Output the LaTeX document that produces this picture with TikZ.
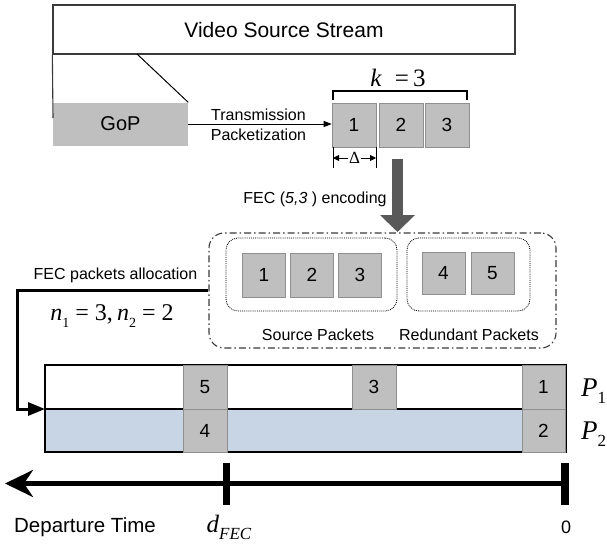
\documentclass[tikz,border=0pt]{standalone}
\usepackage{fontspec}
\setmainfont{Liberation Sans}
\newfontfamily\tms{Liberation Serif}
\usetikzlibrary{arrows.meta}
\definecolor{pgray}{HTML}{BFBFBF}
\definecolor{pedge}{HTML}{8F8F8F}
\definecolor{pblue}{HTML}{C8D5E5}
\definecolor{darr}{HTML}{595959}
\definecolor{lgray}{HTML}{3A3A3A}
\newcommand{\fsz}[1]{\fontsize{#1}{#1}\selectfont}
\newcommand{\mysub}[2]{\raisebox{-0.28em}{\fontsize{#1}{#1}\selectfont #2}}
\begin{document}
\begin{tikzpicture}[x=1pt,y=-1pt,
  pk/.style={draw=pedge, fill=pgray, line width=0.6pt, inner sep=0pt,
    minimum width=44pt, minimum height=44pt, font=\fsz{19}},
  lbl/.style={inner sep=0pt, font=\fontsize{16}{20}\selectfont, align=center},
  dotbox/.style={draw=black, line width=0.8pt, dash pattern=on 0.9pt off 1pt,
    rounded corners=12pt, inner sep=0pt},
  tick/.style={fill=black, inner sep=0pt, minimum height=42pt}]
\useasboundingbox (0,0) rectangle (607,543);

% video source stream and GoP
\node[draw=lgray, line width=1.3pt, minimum width=462pt, minimum height=49pt,
  inner sep=0pt, font=\fsz{21}] (vss) at (284,29.5) {Video Source Stream};
\node[fill=pgray, minimum width=135pt, minimum height=43pt, inner sep=0pt,
  font=\fsz{20}] (gop) at (120.5,124) {GoP};
\coordinate (gl) at (53,118);
\coordinate (dg) at (137,54);
\draw[lgray, line width=1.1pt] (vss.south west) -- (gl);
\draw[black, line width=1pt] (dg) -- (gop.north east);

% top packets
\node[pk] (t1) at (354,125) {1};
\node[pk] (t2) at (401,125) {2};
\node[pk] (t3) at (447,125) {3};
\draw[line width=1pt, -{Triangle[length=8pt,width=6pt]}] (gop.east) -- (t1.west |- gop.east);
\node[lbl] (tp) at (258.5,125) {Transmission\\Packetization};

% bracket k = 3
\coordinate (b1) at (333,100);
\coordinate (b2) at (333,91);
\coordinate (b3) at (467,91);
\coordinate (b4) at (467,100);
\draw[line width=1.2pt] (b1) -- (b2) -- (b3) -- (b4);
\node[inner sep=0pt] (keq) at (398,78) {\tms\fsz{25}\textit{k}\hspace{13pt}=\,3};

% delta
\coordinate (dl1) at (333,147);
\coordinate (dl2) at (333,168);
\coordinate (dr1) at (376,147);
\coordinate (dr2) at (376,168);
\draw[line width=1pt] (dl1) -- (dl2) (dr1) -- (dr2);
\node[inner sep=0.5pt] (dlt) at (354.5,158) {\tms\fsz{17}Δ};
\coordinate (da) at (333,158);
\coordinate (db) at (376,158);
\draw[line width=0.9pt, -{Triangle[length=6pt,width=6pt]}] (dlt.west) -- (da);
\draw[line width=0.9pt, -{Triangle[length=6pt,width=6pt]}] (dlt.east) -- (db);

% big encoding arrow
\coordinate (ba1) at (397.5,159);
\coordinate (ba2) at (397.5,232);
\draw[darr, line width=11pt, -{Triangle[length=17pt,width=34pt]}] (ba1) -- (ba2);
\node[lbl] (fenc) at (315,199) {FEC (\textit{5,3} ) encoding};

% FEC block
\node[draw=lgray, line width=1.1pt, rounded corners=15pt,
  dash pattern=on 7pt off 3pt on 1.5pt off 3pt, inner sep=0pt,
  minimum width=347pt, minimum height=115pt] (fecbox) at (382.5,290.5) {};
\node[dotbox, minimum width=171pt, minimum height=73pt] (srcbox) at (311.5,274.5) {};
\node[dotbox, minimum width=123pt, minimum height=73pt] (redbox) at (468.5,274.5) {};
\node[pk, minimum width=43pt] (m1) at (264,275) {1};
\node[pk, minimum width=43pt] (m2) at (312,275) {2};
\node[pk, minimum width=43pt] (m3) at (360,275) {3};
\node[pk, minimum width=43pt, minimum height=42pt] (m4) at (443.5,273) {4};
\node[pk, minimum width=43pt, minimum height=42pt] (m5) at (492.5,273) {5};
\node[lbl] (srcl) at (318,335) {Source Packets};
\node[lbl] (redl) at (469,335) {Redundant Packets};

% allocation
\node[lbl] (alloc) at (115.5,275) {FEC packets allocation};
\node[inner sep=0pt] (nn) at (112,316) {\tms\fsz{24}\textit{n}\mysub{14}{1} = 3,\,\textit{n}\mysub{14}{2} = 2};

% path bar
\coordinate (bar-nw) at (45,365);
\coordinate (bar-se) at (566,452);
\coordinate (div) at (45,409);
\coordinate (dive) at (566,409);
\coordinate (bend) at (17,409);
\fill[white] (bar-nw) rectangle (dive);
\fill[pblue] (div) rectangle (bar-se);
\draw[line width=2.5pt] (bar-nw) rectangle (bar-se);
\draw[line width=2.5pt] (div) -- (dive);
\draw[line width=3pt, -{Triangle[length=17pt,width=13pt]}] (fecbox.west) -| (bend) -- (div);

\node[pk] (r5) at (205,387) {5};
\node[pk, minimum height=43pt] (r4) at (205,430.5) {4};
\node[pk] (r3) at (374,387) {3};
\node[pk, minimum width=43pt] (r1) at (543.5,387) {1};
\node[pk, minimum width=43pt, minimum height=43pt] (r2) at (543.5,430.5) {2};

\node[anchor=west, inner sep=0pt] (p1) at (581,391) {\tms\fsz{27}\textit{P}\mysub{17}{1}};
\node[anchor=west, inner sep=0pt] (p2) at (581,434) {\tms\fsz{27}\textit{P}\mysub{17}{2}};

% timeline
\node[tick, minimum width=8pt] (tk0) at (565,483.5) {};
\node[tick, minimum width=7pt] (tkd) at (226.5,483.5) {};
\coordinate (tend) at (5,483.5);
\draw[line width=4.3pt, -{Stealth[length=28pt,width=27pt,inset=9pt]}] (tk0.center) -- (tend);
\node[inner sep=0pt, font=\fsz{20.5}] (dep) at (85,527) {Departure Time};
\node[inner sep=0pt] (dfec) at (229,527) {\tms\fsz{25}\textit{d}\mysub{17}{\textit{FEC}}};
\node[inner sep=0pt, font=\fsz{18}] (zero) at (566,527) {0};
\end{tikzpicture}
\end{document}
